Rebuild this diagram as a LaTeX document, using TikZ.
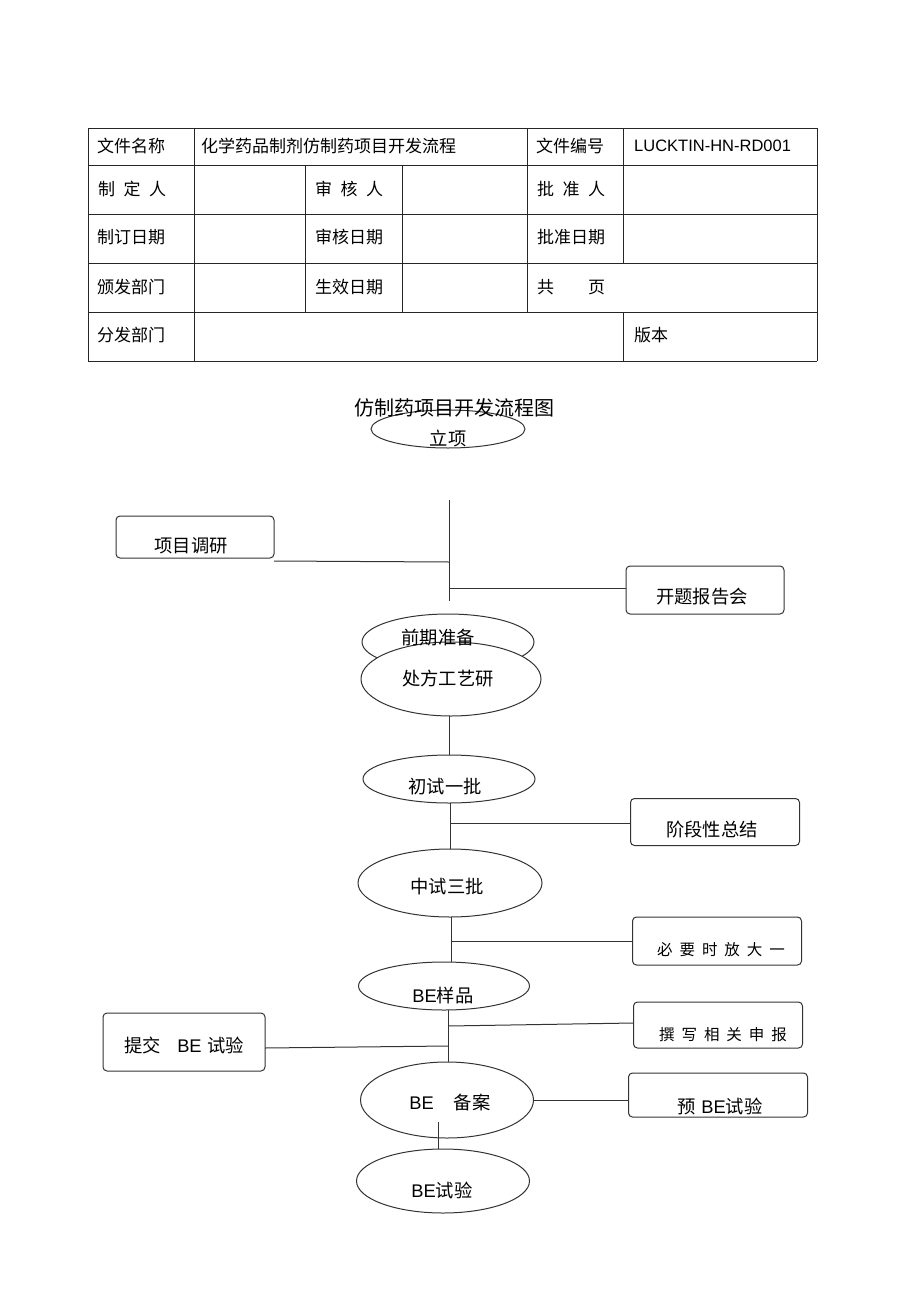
\documentclass[tikz,border=0pt]{standalone}
\usepackage{fontspec}
\setmainfont{Noto Sans CJK SC}
\newfontfamily\latn{Liberation Sans}
\usetikzlibrary{shapes.geometric}
\begin{document}
\begin{tikzpicture}[x=1pt,y=-1pt,
  tl/.style={line width=0.9pt, draw=black!85},
  ln/.style={line width=1pt, draw=black!80},
  cell/.style={anchor=west, inner sep=0pt, font=\fontsize{17}{18}\selectfont},
  box/.style={draw=black!80, line width=1pt, rounded corners=4pt, inner sep=0pt, outer sep=0pt, rectangle},
  ell/.style={draw=black!80, line width=1pt, ellipse, inner sep=0pt, outer sep=0pt},
  big/.style={font=\fontsize{18.3}{19}\selectfont, inner sep=0pt},
  sml/.style={font=\fontsize{15.5}{16}\selectfont, inner sep=0pt}]
\useasboundingbox (0,0) rectangle (920,1303);
\fill[white] (0,0) rectangle (920,1303);
% ---------- table ----------
\foreach \yy in {128,165,214,263,312,361} \draw[tl] (88,\yy) -- (817,\yy);
\draw[tl] (88,128) -- (88,361);
\draw[tl] (817,128) -- (817,361);
\draw[tl] (194,128) -- (194,361);
\draw[tl] (305,165) -- (305,312);
\draw[tl] (402,165) -- (402,312);
\draw[tl] (527,128) -- (527,312);
\draw[tl] (623,128) -- (623,263);
\draw[tl] (623,312) -- (623,361);
\node[cell] (c11) at (97,146) {文件名称};
\node[cell] (c12) at (201,146) {化学药品制剂仿制药项目开发流程};
\node[cell] (c13) at (536,146) {文件编号};
\node[cell] (c14) at (634,146) {\fontsize{16.5}{17}\latn LUCKTIN-HN-RD001};
\node[cell] (c21) at (98,189) {制\hspace{0.5em}定\hspace{0.5em}人};
\node[cell] (c22) at (315,189) {审\hspace{0.5em}核\hspace{0.5em}人};
\node[cell] (c23) at (537,189) {批\hspace{0.5em}准\hspace{0.5em}人};
\node[cell] (c31) at (97,237) {制订日期};
\node[cell] (c32) at (315,237) {审核日期};
\node[cell] (c33) at (537,237) {批准日期};
\node[cell] (c41) at (97,287) {颁发部门};
\node[cell] (c42) at (315,287) {生效日期};
\node[cell] (c43) at (537,287) {共\hspace{2em}页};
\node[cell] (c51) at (97,335) {分发部门};
\node[cell] (c52) at (634,335) {版本};
% ---------- flowchart ----------
\node[ell, minimum width=154pt, minimum height=38pt,
  label={[big, yshift=-9pt]center:立项}] (lx) at (448,429) {};
\node[font=\fontsize{20}{21}\selectfont, inner sep=0pt] (title) at (454,408) {仿制药项目开发流程图};

\coordinate (vtop) at (449,500);
\coordinate (vbot) at (449,601);
\coordinate (j1) at (449,562);
\coordinate (j2) at (449,588);
\draw[ln] (vtop) -- (vbot);

\node[box, minimum width=158pt, minimum height=42pt,
  label={[big, xshift=-4pt, yshift=-9pt]center:项目调研}] (xmdy) at (195,537) {};
\node[box, minimum width=158pt, minimum height=48pt,
  label={[big, xshift=-3pt, yshift=-7pt]center:开题报告会}] (ktbg) at (705,590) {};
\draw[ln] ([yshift=-3pt]xmdy.south east) -- (j1);
\draw[ln] (j2) -- (ktbg.west |- j2);

\node[ell, minimum width=172pt, minimum height=56pt] (qqzb) at (448,642) {};
\node[ell, fill=white, minimum width=180pt, minimum height=74pt,
  label={[big, xshift=-3pt]center:处方工艺研}] (cfgy) at (451,679) {};
\node[big] (qqzbt) at ([xshift=-10pt, yshift=4pt]qqzb.center) {前期准备};

\node[ell, minimum width=172pt, minimum height=48pt,
  label={[big, xshift=-4pt, yshift=-8pt]center:初试一批}] (cs) at (449,779) {};
\draw[ln] (cfgy.south -| cs.north) -- (cs.north);

\node[box, minimum width=169pt, minimum height=47pt,
  label={[big, xshift=-3pt, yshift=-8pt]center:阶段性总结}] (jdx) at (715,822) {};
\node[ell, minimum width=184pt, minimum height=68pt,
  label={[big, xshift=-3pt, yshift=-4pt]center:中试三批}] (zs) at (450,883) {};
\coordinate (j3) at (450,823);
\draw[ln] (cs.south -| j3) -- (zs.north -| j3);
\draw[ln] (j3) -- (jdx.west |- j3);

\node[box, minimum width=169pt, minimum height=48pt,
  label={[sml, xshift=4pt, yshift=-9pt]center:必\hspace{0.45em}要\hspace{0.45em}时\hspace{0.45em}放\hspace{0.45em}大\hspace{0.45em}一}] (bys) at (717,941) {};
\node[ell, minimum width=171pt, minimum height=48pt,
  label={[big, xshift=-1pt, yshift=-10pt]center:{\latn BE}样品}] (beyp) at (444,986) {};
\coordinate (j4) at (451,941);
\draw[ln] (zs.south -| j4) -- (beyp.north -| j4);
\draw[ln] (j4) -- (bys.west |- j4);

\node[box, minimum width=169pt, minimum height=46pt,
  label={[sml, xshift=5pt, yshift=-10pt]center:撰\hspace{0.45em}写\hspace{0.45em}相\hspace{0.45em}关\hspace{0.45em}申\hspace{0.45em}报}] (zx) at (718,1025) {};
\node[box, minimum width=162pt, minimum height=58pt,
  label={[big, yshift=-3pt]center:提交\hspace{0.9em}{\latn BE}\hspace{0.3em}试验}] (tj) at (184,1042) {};
\node[ell, minimum width=173pt, minimum height=76pt,
  label={[big, xshift=3pt, yshift=-2pt]center:{\latn BE}\hspace{1.1em}备案}] (beba) at (447,1100) {};
\coordinate (j5) at (448,1026);
\coordinate (j6) at (448,1046);
\draw[ln] (beyp.south -| j5) -- (beba.north -| j5);
\draw[ln] (j5) -- (zx.west |- 0,1023);
\draw[ln] ([yshift=-6pt]tj.east) -- (j6);

\node[box, minimum width=179pt, minimum height=44pt,
  label={[big, xshift=2pt, yshift=-11pt]center:预\hspace{0.3em}{\latn BE}试验}] (ybe) at (718,1095) {};
\draw[ln] (beba.east) -- (ybe.west |- beba.east);

\node[ell, minimum width=173pt, minimum height=64pt,
  label={[big, xshift=-1pt, yshift=-9pt]center:{\latn BE}试验}] (besy) at (443,1181) {};
\coordinate (j7) at (438,1122);
\draw[ln] (j7) -- (besy.north -| j7);
\end{tikzpicture}
\end{document}
